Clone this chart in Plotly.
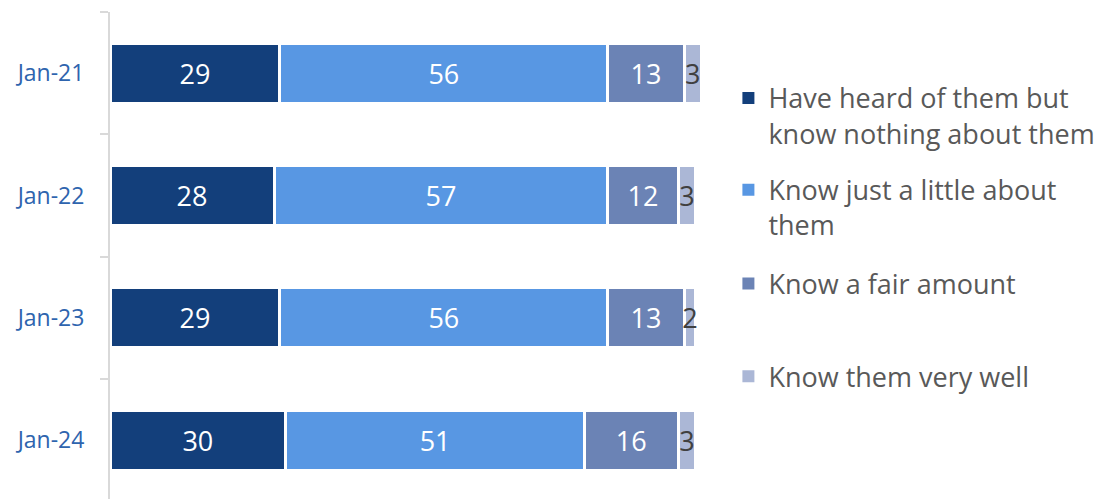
import plotly.graph_objects as go

# Survey waves and answer shares (percent)
categories = ["Jan-21", "Jan-22", "Jan-23", "Jan-24"]
heard_nothing = [29, 28, 29, 30]
know_little = [56, 57, 56, 51]
fair_amount = [13, 12, 13, 16]
very_well = [3, 3, 2, 3]

series_names = [
    "Have heard of them but<br>know nothing about them",
    "Know just a little about<br>them",
    "Know a fair amount",
    "Know them very well",
]
series_values = [heard_nothing, know_little, fair_amount, very_well]
series_colors = ["#133F7B", "#5897E3", "#6B83B5", "#ABB7D6"]
label_colors = ["#FFFFFF", "#FFFFFF", "#FFFFFF", "#404040"]
legend_ids = ["legend", "legend2", "legend3", "legend4"]

FONT = "Open Sans"

fig = go.Figure()
for name, vals, col, lcol, lg in zip(series_names, series_values, series_colors,
                                      label_colors, legend_ids):
    fig.add_trace(go.Bar(
        y=categories,
        x=vals,
        name=name,
        orientation="h",
        marker=dict(color=col, line=dict(color="#FFFFFF", width=3)),
        text=[str(v) for v in vals],
        textposition="inside",
        insidetextanchor="middle",
        textangle=0,
        constraintext="none",
        textfont=dict(family=FONT, size=27, color=lcol),
        showlegend=False,
        hoverinfo="skip",
    ))
    # legend entry with a solid square key
    fig.add_trace(go.Scatter(
        x=[None], y=[None],
        mode="markers",
        name=name,
        marker=dict(symbol="square", size=12, color=col),
        legend=lg,
        hoverinfo="skip",
    ))

legend_tops = [0.852, 0.668, 0.480, 0.294]
legend_common = dict(
    xref="container", yref="container", x=0.658, xanchor="left", yanchor="top",
    bgcolor="rgba(0,0,0,0)", valign="top",
    font=dict(family=FONT, size=27, color="#595959"),
)

layout_legends = {}
for lg, top in zip(legend_ids, legend_tops):
    layout_legends[lg] = dict(y=top, **legend_common)

fig.update_layout(
    width=1107,
    height=499,
    barmode="stack",
    bargap=0.51,
    plot_bgcolor="#FFFFFF",
    paper_bgcolor="#FFFFFF",
    margin=dict(l=110, r=382, t=12, b=0),
    showlegend=True,
    xaxis=dict(range=[0, 105], visible=False, fixedrange=True),
    yaxis=dict(
        type="category",
        range=[3.48, -0.5],
        showline=True,
        linecolor="#D9D9D9",
        linewidth=2,
        ticks="outside",
        tickson="boundaries",
        ticklen=8,
        tickwidth=2,
        tickcolor="#D9D9D9",
        ticklabelstandoff=19,
        showgrid=False,
        zeroline=False,
        tickfont=dict(family=FONT, size=23, color="#2E64AE"),
    ),
    **layout_legends,
)

fig.write_html("out.html")
